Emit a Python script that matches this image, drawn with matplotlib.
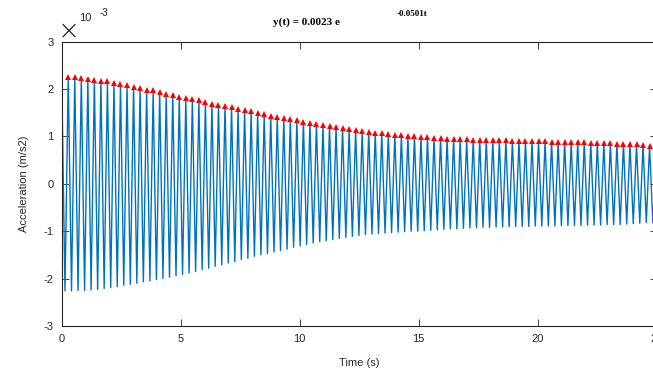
import numpy as np
import matplotlib
matplotlib.use("Agg")
import matplotlib.pyplot as plt

# Datos (aceleracion en unidades de 1e-3 m/s2)
periodo = 0.2745   # s, separacion entre picos
inicio = 2.25      # valor en t = 0

picos = [2.25, 2.25, 2.23, 2.21, 2.20, 2.18, 2.16, 2.13, 2.11, 2.08,
         2.05, 2.02, 1.99, 1.97, 1.93, 1.90, 1.87, 1.84, 1.81, 1.78,
         1.76, 1.72, 1.69, 1.67, 1.65, 1.62, 1.58, 1.55, 1.53, 1.50,
         1.47, 1.44, 1.42, 1.39, 1.37, 1.34, 1.31, 1.28, 1.27, 1.24,
         1.22, 1.20, 1.17, 1.16, 1.13,
         1.11, 1.10, 1.08, 1.07, 1.05, 1.04, 1.02, 1.01, 1.00, 0.99,
         0.98, 0.97, 0.96, 0.95, 0.95, 0.94, 0.94, 0.93, 0.93, 0.93,
         0.92, 0.92, 0.92, 0.91, 0.91, 0.91, 0.90, 0.90, 0.90, 0.89,
         0.89, 0.89, 0.88, 0.88, 0.88, 0.87, 0.87, 0.86, 0.86, 0.85,
         0.85, 0.84, 0.83, 0.82, 0.80]

valles = [-2.26, -2.26, -2.25, -2.25, -2.24, -2.23, -2.21, -2.19, -2.17, -2.14,
          -2.12, -2.10, -2.07, -2.05, -2.02, -2.00, -1.97, -1.94, -1.91, -1.88,
          -1.85, -1.81, -1.78, -1.74, -1.71, -1.67, -1.64, -1.60, -1.57, -1.53,
          -1.50, -1.47, -1.44, -1.41, -1.38, -1.34, -1.31, -1.28, -1.25, -1.22,
          -1.20, -1.18, -1.15, -1.13, -1.11, -1.09, -1.07, -1.06, -1.05, -1.04,
          -1.03, -1.02, -1.01, -1.00, -1.00, -0.99, -0.98, -0.97, -0.96, -0.95,
          -0.95, -0.94, -0.93, -0.93, -0.92, -0.92, -0.91, -0.91, -0.91, -0.90,
          -0.90, -0.90, -0.89, -0.89, -0.89, -0.89, -0.88, -0.88, -0.88, -0.88,
          -0.87, -0.87, -0.87, -0.86, -0.86, -0.86, -0.85, -0.84, -0.83, -0.82, -0.82]

xticks = [0, 5, 10, 15, 20, 25]
yticks = [-3, -2, -1, 0, 1, 2, 3]

t_picos = periodo * np.arange(1, len(picos) + 1)
t_valles = periodo * (np.arange(len(valles)) + 0.5)

# senal: alternar picos y valles
t = np.concatenate([[0], t_picos, t_valles])
y = np.concatenate([[inicio], picos, valles])
orden = np.argsort(t)
t = t[orden]
y = y[orden]

gris = "#262626"
plt.rcParams["font.family"] = ["Liberation Sans", "DejaVu Sans"]
plt.rcParams["axes.unicode_minus"] = False

fig = plt.figure(figsize=(6.53, 3.72), dpi=100)
ax = fig.add_axes([0.0945, 0.1237, 0.911, 0.7643])

ax.plot(t, y, color="#0072BD", linewidth=1.0)
ax.plot(t_picos, picos, "^", color="red", markersize=5, markeredgewidth=0)

ax.set_xlim(0, 25)
ax.set_ylim(-3, 3)
ax.set_xticks(xticks)
ax.set_yticks(yticks)
ax.tick_params(direction="in", length=5, width=0.6, colors=gris, labelsize=8,
               top=True, right=True, pad=6)
for s in ax.spines.values():
    s.set_color(gris)
    s.set_linewidth(0.8)

ax.set_xlabel("Time (s)", fontsize=8, color=gris, labelpad=10)
ax.set_ylabel("Acceleration (m/s2)", fontsize=8, color=gris, labelpad=10)

# factor de escala tipo MATLAB
fig.text(69 / 653, 1 - 31 / 372, "\u00d7", fontsize=19, color=gris, ha="center", va="center",
         family="DejaVu Sans", fontweight="light")
fig.text(85 / 653, 1 - 18 / 372, "10", fontsize=8, color=gris, ha="center", va="center")
fig.text(104 / 653, 1 - 13 / 372, "-3", fontsize=7, color=gris, ha="center", va="center")

# titulo con exponente
fig.text(306 / 653, 1 - 22 / 372, "y(t) = 0.0023 e", fontsize=8, fontweight="bold",
         family="Liberation Serif", ha="center", va="center", color="black")
fig.text(412 / 653, 1 - 14 / 372, "-0.0501t", fontsize=6.5, fontweight="bold",
         family="Liberation Serif", ha="center", va="center", color="black")

fig.savefig("out.png", dpi=100)
